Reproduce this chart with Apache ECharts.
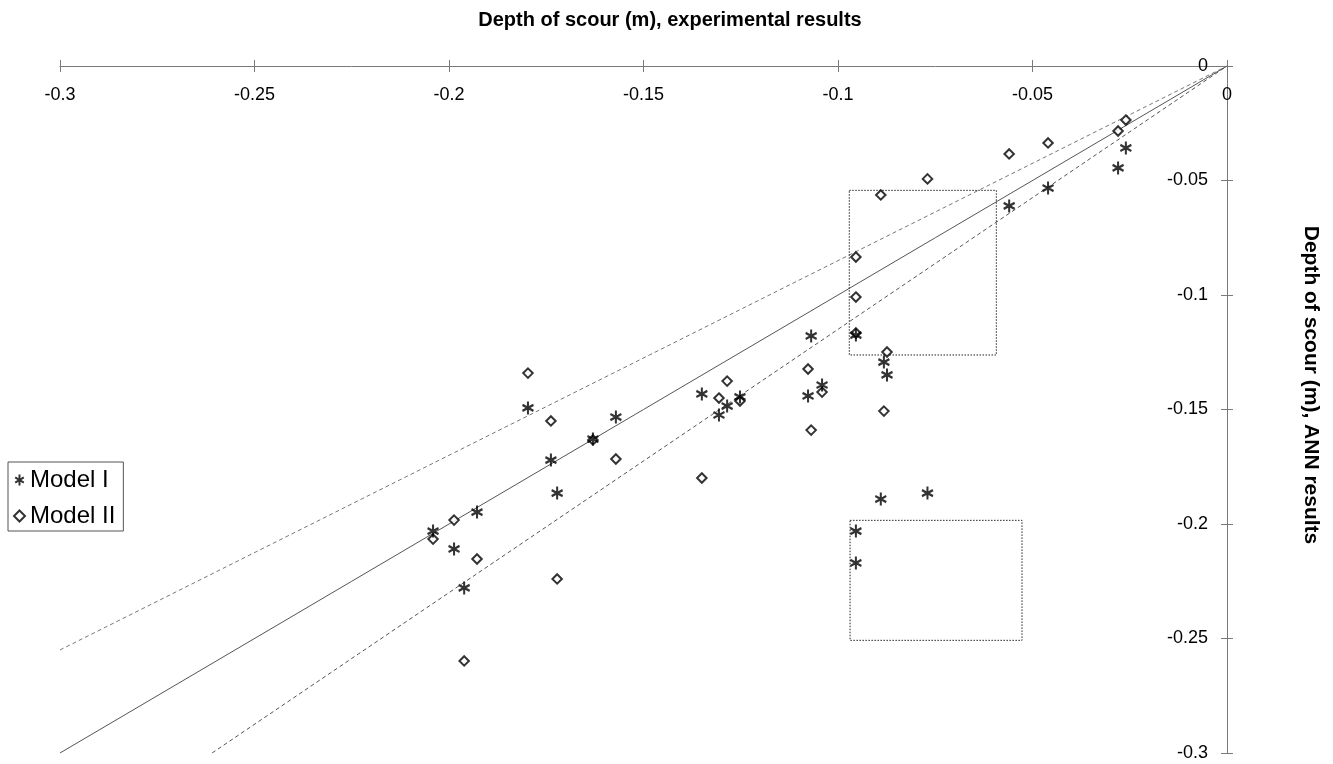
<!DOCTYPE html>
<html>
<head>
<meta charset="utf-8">
<script src="https://cdn.jsdelivr.net/npm/echarts@6/dist/echarts.min.js"></script>
<style>
html,body{margin:0;padding:0;background:#fff;}
#chart{width:1333px;height:764px;}
</style>
</head>
<body>
<div id="chart"></div>
<script>
// Experimental depth of scour (m) for each test
const experimental = [-0.026, -0.028, -0.046, -0.056, -0.077, -0.089, -0.0954, -0.0954, -0.0954,
  -0.0882, -0.0874, -0.1069, -0.1077, -0.1041, -0.1252, -0.1285, -0.1306, -0.1350, -0.1571,
  -0.1630, -0.1797, -0.1738, -0.1722, -0.1928, -0.2041, -0.1987, -0.1961];
// ANN predicted depth (m), Model I
const modelI = [-0.0358, -0.0445, -0.0533, -0.0611, -0.1865, -0.1891, -0.1175, -0.2031, -0.2170,
  -0.1293, -0.1349, -0.1179, -0.1441, -0.1393, -0.1445, -0.1485, -0.1524, -0.1432, -0.1533,
  -0.1629, -0.1493, -0.1721, -0.1865, -0.1948, -0.2031, -0.2109, -0.2279];
// ANN predicted depth (m), Model II
const modelII = [-0.0236, -0.0284, -0.0336, -0.0384, -0.0493, -0.0563, -0.1166, -0.0834, -0.1009,
  -0.1507, -0.1249, -0.1590, -0.1323, -0.1424, -0.1463, -0.1376, -0.1450, -0.1799, -0.1716,
  -0.1633, -0.1341, -0.1550, -0.2240, -0.2153, -0.2066, -0.1983, -0.2598];
// Reference lines: perfect agreement and +/-15 % bands
const perfectLine = [[-0.3, -0.3], [0, 0]];
const upperBand = [[-0.3, -0.255], [0, 0]];
const lowerBand = [[-0.2609, -0.3], [0, 0]];
// Highlight boxes (x, y corners)
const box1 = [[-0.0971, -0.0543], [-0.0593, -0.0543], [-0.0593, -0.1262], [-0.0971, -0.1262], [-0.0971, -0.0543]];
const box2 = [[-0.0969, -0.1984], [-0.0527, -0.1984], [-0.0527, -0.2508], [-0.0969, -0.2508], [-0.0969, -0.1984]];
const axisMin = -0.3, axisMax = 0, axisStep = 0.05;
const xTitle = 'Depth of scour (m), experimental results';
const yTitle = 'Depth of scour (m), ANN results';
const seriesNames = ['Model I', 'Model II'];

const FONT = '"Liberation Sans", Arial, sans-serif';
const ASTERISK = 'path://M5,0L5,12M0.3,3.2L9.7,8.8M0.3,8.8L9.7,3.2';

const chart = echarts.init(document.getElementById('chart'), null, {renderer: 'canvas'});
const axisColor = '#7a7a7a';
const baseX = {
  type: 'value', position: 'top', min: axisMin, max: axisMax, interval: axisStep,
  splitLine: {show: false}
};
const baseY = {
  type: 'value', position: 'right', min: axisMin, max: axisMax, interval: axisStep,
  splitLine: {show: false}
};
const option = {
  backgroundColor: '#fff',
  animation: false,
  grid: {left: 60, right: 106, top: 66, bottom: 11},
  xAxis: [
    Object.assign({}, baseX, {
      axisLine: {show: true, onZero: false, lineStyle: {color: axisColor, width: 1}},
      axisTick: {show: true, inside: false, length: 6, lineStyle: {color: axisColor}},
      axisLabel: {inside: true, margin: 20, color: '#000', fontSize: 18, fontFamily: FONT}
    }),
    Object.assign({}, baseX, {
      axisLine: {show: false},
      axisTick: {show: true, inside: true, length: 6, lineStyle: {color: axisColor}},
      axisLabel: {show: false}
    })
  ],
  yAxis: [
    Object.assign({}, baseY, {
      axisLine: {show: true, onZero: false, lineStyle: {color: axisColor, width: 1}},
      axisTick: {show: true, inside: false, length: 6, lineStyle: {color: axisColor}},
      axisLabel: {inside: true, margin: 19, color: '#000', fontSize: 18, fontFamily: FONT}
    }),
    Object.assign({}, baseY, {
      axisLine: {show: false},
      axisTick: {show: true, inside: true, length: 6, lineStyle: {color: axisColor}},
      axisLabel: {show: false}
    })
  ],
  legend: {
    orient: 'vertical', left: 8, top: 462,
    padding: [6, 8, 3, 5], itemGap: 12,
    itemWidth: 11, itemHeight: 11,
    borderColor: '#555', borderWidth: 1,
    textStyle: {fontSize: 24, fontFamily: FONT, color: '#000'},
    data: [{name: seriesNames[0], icon: ASTERISK}, {name: seriesNames[1], icon: 'emptyDiamond'}]
  },
  graphic: [
    {type: 'text', x: 670, y: 20,
     style: {text: xTitle, font: 'bold 20px ' + FONT, fill: '#000', align: 'center', verticalAlign: 'middle'}},
    {type: 'text', x: 1311, y: 385, rotation: -Math.PI / 2,
     style: {text: yTitle, font: 'bold 21px ' + FONT, fill: '#000', align: 'center', verticalAlign: 'middle'}}
  ],
  series: [
    {type: 'line', data: perfectLine, symbol: 'none', silent: true, z: 1,
     lineStyle: {color: '#555', width: 1}},
    {type: 'line', data: upperBand, symbol: 'none', silent: true, z: 1,
     lineStyle: {color: '#777', width: 1, type: [4, 3]}},
    {type: 'line', data: lowerBand, symbol: 'none', silent: true, z: 1,
     lineStyle: {color: '#555', width: 1, type: [4, 3]}},
    {type: 'line', data: box1, symbol: 'none', silent: true, z: 1,
     lineStyle: {color: '#222', width: 1, type: [1.5, 1.5]}},
    {type: 'line', data: box2, symbol: 'none', silent: true, z: 1,
     lineStyle: {color: '#222', width: 1, type: [1.5, 1.5]}},
    {name: seriesNames[1], type: 'scatter', z: 3,
     data: experimental.map((x, i) => [x, modelII[i]]),
     symbol: 'emptyDiamond', symbolSize: 9.5,
     itemStyle: {color: '#000', borderWidth: 2}},
    {name: seriesNames[0], type: 'scatter', z: 4,
     data: experimental.map((x, i) => [x, modelI[i]]),
     symbol: ASTERISK, symbolSize: [11, 13],
     itemStyle: {color: '#000', borderColor: '#000', borderWidth: 2.2}}
  ]
};
chart.setOption(option);
</script>
</body>
</html>
